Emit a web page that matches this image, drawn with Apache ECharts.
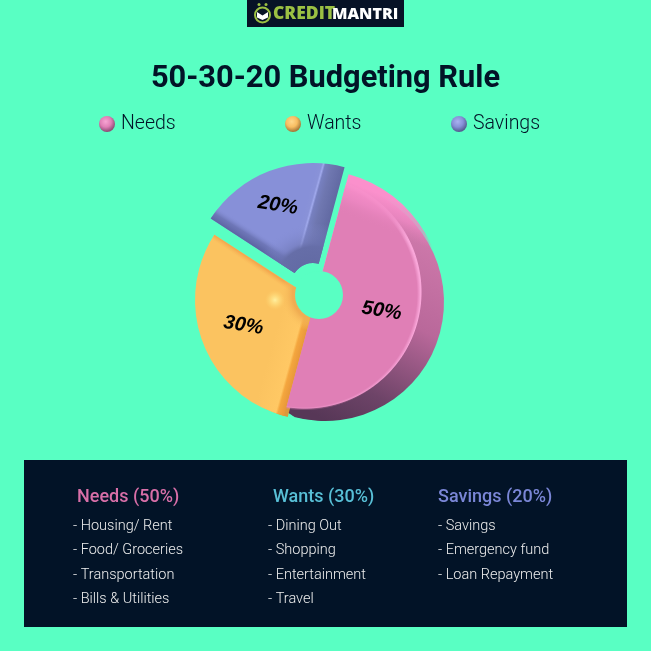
<!DOCTYPE html>
<html><head><meta charset="utf-8">
<style>html,body{margin:0;padding:0;background:#59ffc3}#c{width:651px;height:651px}</style>
<script src="https://cdn.jsdelivr.net/npm/echarts@6/dist/echarts.min.js"></script>
</head><body><div id="c"></div>
<script>
const categories = ['Needs', 'Wants', 'Savings'];
const shares = [50, 30, 20];
const panelHeads = ['Needs (50%)', 'Wants (30%)', 'Savings (20%)'];
const needsItems = ['- Housing/ Rent', '- Food/ Groceries', '- Transportation', '- Bills & Utilities'];
const wantsItems = ['- Dining Out', '- Shopping', '- Entertainment', '- Travel'];
const savingsItems = ['- Savings', '- Emergency fund', '- Loan Repayment'];

const BG = '#59ffc3', NAVY = '#021327';
const lin = (x, y, x2, y2, stops) => ({type:'linear', x, y, x2, y2, global:true,
  colorStops: stops.map(s => ({offset:s[0], color:s[1]}))});
const rad = (x, y, r, stops) => ({type:'radial', x, y, r, global:true,
  colorStops: stops.map(s => ({offset:s[0], color:s[1]}))});

function layer(idx, center, radius, color) {
  return {
    type:'pie', silent:true, animation:false, startAngle:75, clockwise:true,
    center, radius, name:categories[idx], label:{show:false}, labelLine:{show:false},
    emphasis:{disabled:true},
    data: categories.map((n, i) => ({
      name:n, value:shares[i],
      itemStyle:{color: i === idx ? color : 'rgba(0,0,0,0)', borderWidth:0}
    }))
  };
}
function labelLayer(idx, center, dist) {
  const s = layer(idx, center, [dist, dist], 'rgba(0,0,0,0)');
  s.data = s.data.map((d, i) => Object.assign(d, {
    label:{show:i === idx, position:'inside', formatter:'{c}%', rotate:-9,
      fontFamily:'Liberation Sans', fontStyle:'italic', fontWeight:'bold', fontSize:20, color:'#000'}
  }));
  s.z = 20;
  return s;
}

const series = [];
// Needs: extruded wall
const wall = lin(440, 225, 335, 425, [[0,'#d27cae'],[0.45,'#b9689a'],[0.8,'#6e4468'],[1,'#573757']]);
for (let k = 9; k >= 1; k--) series.push(layer(0, [316 + k, 296 + k * 0.67], 119, wall));
// Wants: small tail
series.push(layer(1, [318, 304], 117, '#d9983c'));
// Needs: top surface, light rim below the main face
const circleFill = (x, y, r, c, soft) => rad(x, y, r, [[0,c],[soft,c],[1,'rgba(224,127,182,0)']]);
series.push(layer(0, [316, 296], 126, rad(305, 292, 117, [[0,'#f9a6d9'],[0.992,'#f9a6d9'],[1,'rgba(249,166,217,0)']])));
series.push(layer(0, [316, 296], 126, circleFill(303.5, 293.5, 117, '#e07fb6', 0.97)));
series.push(layer(0, [316, 296], 126, lin(350, 182, 338, 212, [[0,'#fb90cc'],[0.5,'rgba(238,136,195,0.8)'],[1,'rgba(224,127,182,0)']])));
// Wants: top surface with side band
series.push(layer(1, [315, 300], 120, lin(297, 367, 268, 359, [[0,'#e8983a'],[0.2,'#f4a63e'],[0.28,'#ffc864'],[1,'#fbc360']])));
series.push(layer(1, [315, 300], 120, lin(256, 263, 248, 275, [[0,'#f3a84f'],[0.35,'rgba(251,195,96,0.5)'],[1,'rgba(251,195,96,0)']])));
series.push(layer(1, [315, 300], 120, rad(319, 295, 38, [[0,'#eda94e'],[0.7,'#f0ad52'],[1,'rgba(251,195,96,0)']])));
series.push(layer(1, [315, 300], 120, rad(275, 300, 10, [[0,'#fff0a0'],[0.5,'rgba(255,225,130,0.6)'],[1,'rgba(255,210,110,0)']])));
// Savings: offset slice
series.push(layer(2, [313, 285], [22, 122], lin(330, 229, 301, 221, [[0,'#5f67a0'],[0.5,'#6f77b0'],[0.72,'#7780c0'],[0.78,'#a0a9ec'],[0.84,'#8992d8'],[1,'#8790d8']])));
series.push(layer(2, [313, 285], [22, 122], lin(263, 252, 270.5, 240, [[0,'#5c64a2'],[0.5,'rgba(100,108,170,0.7)'],[1,'rgba(135,144,216,0)']])));
series.push(layer(2, [313, 285], [22, 122], rad(314, 285, 62, [[0,'#5f67a0'],[0.62,'#666ea8'],[0.7,'rgba(110,118,180,0.5)'],[1,'rgba(135,144,216,0)']])));
// Percent labels
series.push(labelLayer(0, [315, 293], 66));
series.push(labelLayer(1, [320, 296], 79));
series.push(labelLayer(2, [313, 297], 95));

const sphere = (hi, mid, lo) => ({type:'radial', x:0.42, y:0.35, r:0.62,
  colorStops:[{offset:0,color:hi},{offset:0.55,color:mid},{offset:1,color:lo}]});
const legendX = [94, 280, 446];
const legendCols = [sphere('#f7a5d3','#e07fb6','#8f4f78'), sphere('#ffd88c','#f8bd62','#a87a3a'), sphere('#aab2f0','#8790d8','#565d92')];
const legend = categories.map((n, i) => ({
  left:legendX[i], top:109, orient:'horizontal', selectedMode:false, icon:'circle',
  itemWidth:16, itemHeight:16, itemGap:0,
  textStyle:{fontFamily:'Roboto', fontWeight:300, fontSize:19.5, color:NAVY, padding:[0,0,0,1]},
  data:[{name:n, itemStyle:{color:legendCols[i]}}]
}));

const graphic = [
  {type:'circle', z:100, silent:true, shape:{cx:319, cy:295, r:24}, style:{fill:BG}},
  {type:'rect', z:1, silent:true, shape:{x:24, y:460, width:603, height:167}, style:{fill:NAVY}},
  {type:'rect', z:1, silent:true, shape:{x:247, y:0, width:157, height:27}, style:{fill:'#071226'}},
  {type:'circle', z:2, silent:true, shape:{cx:262.5, cy:15, r:7.5}, style:{fill:'none', stroke:'#9bc043', lineWidth:2}},
  {type:'circle', z:2, silent:true, shape:{cx:259, cy:4.5, r:1.5}, style:{fill:'#9bc043'}},
  {type:'circle', z:2, silent:true, shape:{cx:266, cy:4.5, r:1.5}, style:{fill:'#9bc043'}},
  {type:'polygon', z:2, silent:true, shape:{points:[[257,12],[262.5,15.5],[268,12],[268,17.5],[262.5,20],[257,17.5]]}, style:{fill:'#fff'}},
  {type:'text', z:2, silent:true, style:{x:273, y:14, text:'CREDIT', verticalAlign:'middle', fontFamily:'Open Sans', fontWeight:800, fontSize:17.5, fill:'#9bc043'}},
  {type:'text', z:2, silent:true, style:{x:332, y:14, text:'MANTRI', verticalAlign:'middle', fontFamily:'Open Sans', fontWeight:800, fontSize:16, fill:'#fff'}}
];
const headX = [77, 273, 438], itemX = [73, 268, 438];
const headCols = ['#d86fa8', '#58bfd6', '#7a86d6'];
const rowY = [526, 550.5, 575, 599];
[needsItems, wantsItems, savingsItems].forEach((items, c) => {
  graphic.push({type:'text', z:2, silent:true, style:{x:headX[c], y:497, text:panelHeads[c], verticalAlign:'middle',
    fontFamily:'Roboto', fontWeight:500, fontSize:18, fill:headCols[c]}});
  items.forEach((t, r) => graphic.push({type:'text', z:2, silent:true, style:{x:itemX[c], y:rowY[r], text:t, verticalAlign:'middle',
    fontFamily:'Roboto', fontWeight:300, fontSize:14.5, fill:'#eeeeee'}}));
});

const chart = echarts.init(document.getElementById('c'), null, {renderer:'canvas'});
chart.setOption({
  backgroundColor:BG, animation:false,
  title:{text:'50-30-20 Budgeting Rule', left:'center', top:59, textStyle:{fontFamily:'Roboto', fontWeight:700, fontSize:30.8, color:NAVY}},
  legend, series, graphic
});
</script></body></html>
